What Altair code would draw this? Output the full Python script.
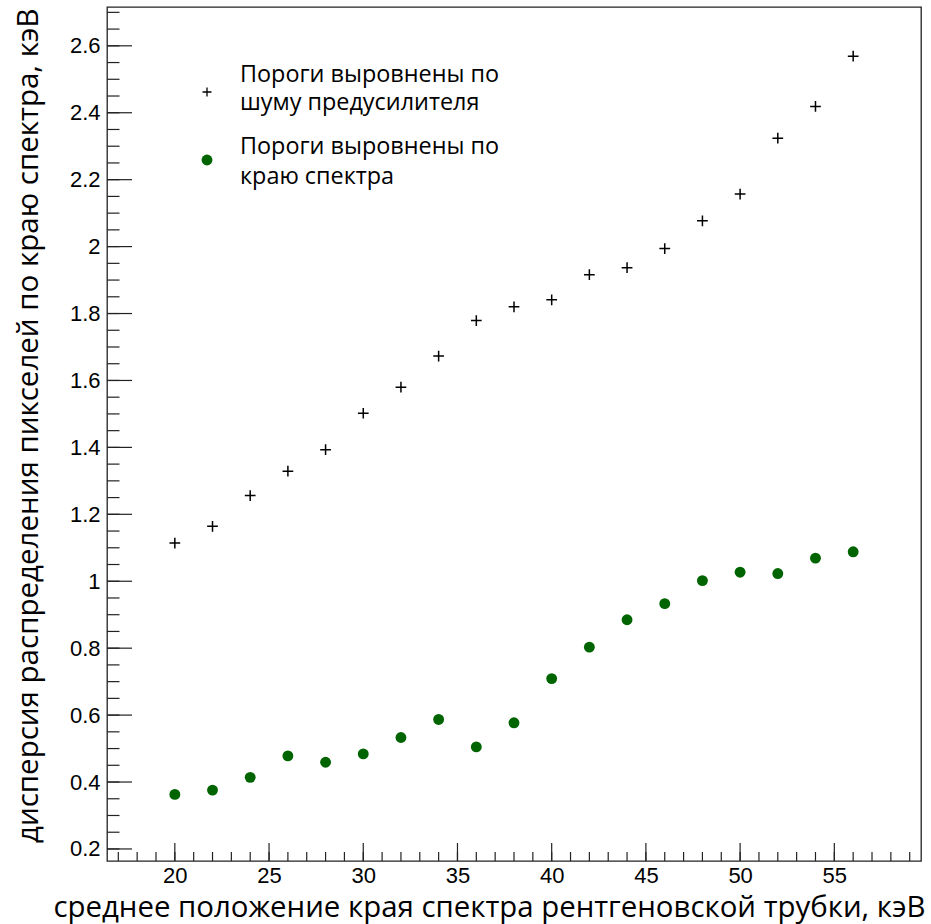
import altair as alt
import pandas as pd

# ---- data ----
energy = [20, 22, 24, 26, 28, 30, 32, 34, 36, 38, 40, 42, 44, 46, 48, 50, 52, 54, 56]
noise_aligned = [1.114, 1.164, 1.256, 1.329, 1.393, 1.502, 1.580, 1.673, 1.779, 1.820,
                 1.841, 1.916, 1.937, 1.994, 2.077, 2.157, 2.324, 2.419, 2.569]
edge_aligned = [0.363, 0.376, 0.414, 0.478, 0.459, 0.484, 0.533, 0.587, 0.505, 0.577,
                0.709, 0.803, 0.885, 0.933, 1.002, 1.027, 1.023, 1.069, 1.088]

legend_labels = ["Пороги выровнены по\nшуму предусилителя",
                 "Пороги выровнены по\nкраю спектра"]
x_title = "среднее положение края спектра рентгеновской трубки, кэВ"
y_title = "дисперсия распределения пикселей по краю спектра, кэВ"

x_major = [20, 25, 30, 35, 40, 45, 50, 55]
x_minor = list(range(17, 60))
y_major = [0.2, 0.4, 0.6, 0.8, 1.0, 1.2, 1.4, 1.6, 1.8, 2.0, 2.2, 2.4, 2.6]
y_minor = [v / 100 for v in range(20, 275, 5)]

x_domain = [16.4, 59.6]
y_domain = [0.164, 2.716]

W, H = 814, 854
GREEN = "#006400"
FRAME = "#222222"

df = pd.DataFrame({"x": energy, "noise": noise_aligned, "edge": edge_aligned})

xs = alt.Scale(domain=x_domain, nice=False, zero=False)
ys = alt.Scale(domain=y_domain, nice=False, zero=False)

x_axis = alt.Axis(values=x_major, grid=False, ticks=False, domain=False,
                  labelFont="Liberation Sans", labelFontSize=22, labelColor="black",
                  labelPadding=4, format="~g",
                  title=x_title, titleFont="Open Sans", titleFontSize=29.4,
                  titleFontWeight="normal", titleColor="black",
                  titleX=818, titleY=55, titleAlign="right", titleBaseline="alphabetic")
y_axis = alt.Axis(values=y_major, grid=False, ticks=False, domain=False,
                  labelFont="Liberation Sans", labelFontSize=22, labelColor="black",
                  labelPadding=7, format="~g",
                  title=y_title, titleFont="Open Sans", titleFontSize=29.5,
                  titleFontWeight="normal", titleColor="black", titleAngle=-90,
                  titleX=-70, titleY=1, titleAlign="right", titleBaseline="alphabetic")

X = alt.X("x:Q", scale=xs, axis=x_axis)
Y_noise = alt.Y("noise:Q", scale=ys, axis=y_axis)
Y_edge = alt.Y("edge:Q", scale=ys, axis=y_axis)

PLUS = "M-1,0L1,0M0,-1L0,1"

plus_pts = alt.Chart(df).mark_point(shape=PLUS, filled=False, stroke="black",
                                    strokeWidth=1.5, size=115, opacity=1).encode(
    x=X, y=Y_noise)
green_pts = alt.Chart(df).mark_point(shape="circle", filled=True, color=GREEN,
                                     size=118, opacity=1).encode(x=X, y=Y_edge)

xt_major = alt.Chart(pd.DataFrame({"x": x_major})).mark_rule(color=FRAME, strokeWidth=1.2).encode(
    x=alt.X("x:Q", scale=xs, axis=x_axis), y=alt.value(H), y2=alt.value(H - 18))
xt_minor = alt.Chart(pd.DataFrame({"x": x_minor})).mark_rule(color=FRAME, strokeWidth=1.2).encode(
    x=alt.X("x:Q", scale=xs, axis=x_axis), y=alt.value(H), y2=alt.value(H - 9))
yt_major = alt.Chart(pd.DataFrame({"noise": y_major})).mark_rule(color=FRAME, strokeWidth=1.2).encode(
    y=alt.Y("noise:Q", scale=ys, axis=y_axis), x=alt.value(0), x2=alt.value(25))
yt_minor = alt.Chart(pd.DataFrame({"noise": y_minor})).mark_rule(color=FRAME, strokeWidth=1.2).encode(
    y=alt.Y("noise:Q", scale=ys, axis=y_axis), x=alt.value(0), x2=alt.value(12.5))

one = pd.DataFrame({"a": [0]})
leg_plus = alt.Chart(one).mark_point(shape=PLUS, filled=False, stroke="black",
                                     strokeWidth=1.3, size=80, opacity=1).encode(
    x=alt.value(100), y=alt.value(85))
leg_circle = alt.Chart(one).mark_point(shape="circle", filled=True, color=GREEN,
                                       size=118, opacity=1).encode(
    x=alt.value(100), y=alt.value(153))
leg_text1 = alt.Chart(one).mark_text(font="Open Sans", fontSize=23.4, align="left",
                                     baseline="alphabetic", lineBreak="\n",
                                     lineHeight=28, color="black").encode(
    x=alt.value(133), y=alt.value(75), text=alt.value(legend_labels[0]))
leg_text2 = alt.Chart(one).mark_text(font="Open Sans", fontSize=23.4, align="left",
                                     baseline="alphabetic", lineBreak="\n",
                                     lineHeight=30, color="black").encode(
    x=alt.value(133), y=alt.value(147), text=alt.value(legend_labels[1]))

chart = alt.layer(
    xt_minor, xt_major, yt_minor, yt_major, plus_pts, green_pts,
    leg_plus, leg_circle, leg_text1, leg_text2
).properties(
    width=W, height=H,
    padding={"left": 107, "top": 7, "right": 10, "bottom": 63},
    autosize=alt.AutoSizeParams(type="none"),
    background="white",
).configure_view(stroke=FRAME, strokeWidth=1.3)

chart.save("out.html", embed_options={"renderer": "svg", "actions": False})
